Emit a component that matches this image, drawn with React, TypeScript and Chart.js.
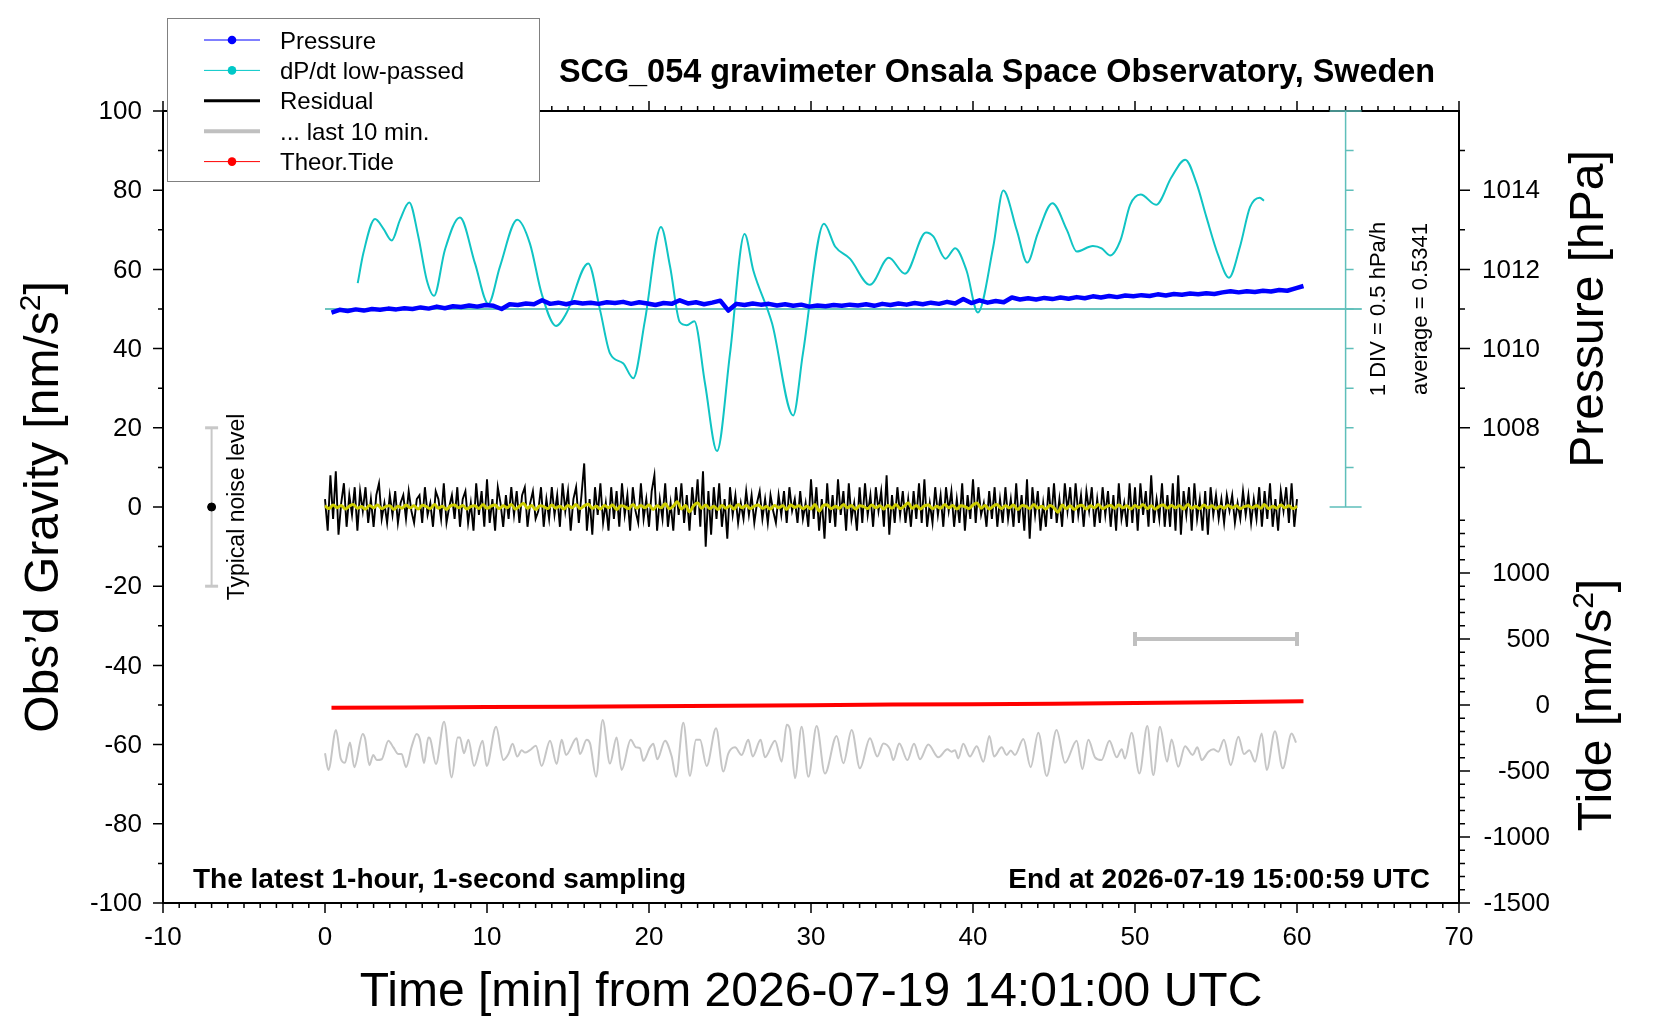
import { useEffect, useRef } from "react"
import { Chart, registerables } from "chart.js"

Chart.register(...registerables)

const FONT = '"Liberation Sans", Arial, Helvetica, sans-serif'

// axis labels
const timeTicks = [-10, 0, 10, 20, 30, 40, 50, 60, 70]
const gravityTicks = [-100, -80, -60, -40, -20, 0, 20, 40, 60, 80, 100]
const pressureTicks = [1008, 1010, 1012, 1014]
const tideTicks = [-1500, -1000, -500, 0, 500, 1000]

// air pressure [hPa], one value every 0.5 min starting at 0.4 min
const pressureStart = 0.4
const pressureStep = 0.5
const pressure = [
  1010.91, 1010.98, 1010.95, 1010.99, 1010.96, 1011.00, 1010.98, 1011.01, 1010.99, 1011.02,
  1011.00, 1011.04, 1011.01, 1011.06, 1011.02, 1011.07, 1011.05, 1011.09, 1011.06, 1011.10,
  1011.08, 1011.00, 1011.12, 1011.10, 1011.14, 1011.12, 1011.22, 1011.13, 1011.16, 1011.12,
  1011.17, 1011.14, 1011.16, 1011.13, 1011.17, 1011.15, 1011.18, 1011.13, 1011.17, 1011.14,
  1011.10, 1011.15, 1011.13, 1011.22, 1011.14, 1011.17, 1011.12, 1011.16, 1011.21, 1010.96,
  1011.13, 1011.10, 1011.14, 1011.11, 1011.13, 1011.09, 1011.12, 1011.08, 1011.11, 1011.06,
  1011.09, 1011.07, 1011.10, 1011.08, 1011.11, 1011.09, 1011.12, 1011.08, 1011.13, 1011.10,
  1011.14, 1011.11, 1011.15, 1011.12, 1011.16, 1011.13, 1011.18, 1011.14, 1011.25, 1011.15,
  1011.22, 1011.16, 1011.20, 1011.17, 1011.29, 1011.24, 1011.27, 1011.24, 1011.28, 1011.25,
  1011.29, 1011.26, 1011.30, 1011.27, 1011.32, 1011.29, 1011.33, 1011.30, 1011.34, 1011.32,
  1011.35, 1011.33, 1011.37, 1011.34, 1011.38, 1011.36, 1011.39, 1011.37, 1011.40, 1011.38,
  1011.42, 1011.45, 1011.42, 1011.45, 1011.43, 1011.46, 1011.44, 1011.48, 1011.46, 1011.52,
  1011.58,
]

// dP/dt low-passed [hPa/h]
const dpdtTime = [
  2.02, 2.37, 3.09, 3.6, 4.12, 4.63, 5.2, 5.76, 6.28, 6.73, 7.4, 8.33, 9.26, 10.08, 10.8,
  11.87, 12.65, 13.37, 14.26, 14.9, 16.25, 16.98, 17.6, 18.4, 19.03, 19.75, 20.74, 21.3,
  21.9, 22.33, 22.8, 23.46, 24.2, 25.0, 25.9, 26.44, 27.6, 28.9, 29.5, 30.8, 31.5, 32.4,
  33.64, 34.8, 35.8, 37.1, 37.55, 38.3, 38.9, 39.6, 40.3, 41.25, 41.87, 42.7, 43.35, 44.0,
  44.9, 45.8, 46.4, 47.4, 47.94, 48.46, 49.1, 49.7, 50.35, 51.3, 52.26, 53.1, 53.8, 54.4,
  55.14, 55.8, 56.48, 57.1, 57.7, 57.96,
]
const dpdtValue = [
  0.86, 1.24, 1.67, 1.55, 1.40, 1.66, 1.88, 1.45, 0.90, 0.70, 1.28, 1.69, 1.11, 0.60, 1.07,
  1.66, 1.36, 0.73, 0.32, 0.48, 1.11, 0.52, -0.03, -0.15, -0.34, 0.39, 1.57, 1.07,
  0.37, 0.33, 0.38, -0.41, -1.26, -0.03, 1.48, 1.02, 0.35, -0.81, -0.03, 1.61, 1.32, 1.17,
  0.84, 1.18, 0.98, 1.50, 1.45, 1.17, 1.30, 1.02, 0.49, 1.32, 2.03, 1.53, 1.12, 1.49,
  1.87, 1.53, 1.26, 1.33, 1.30, 1.21, 1.40, 1.85, 1.98, 1.85, 2.20, 2.42, 2.12, 1.70,
  1.21, 0.93, 1.32, 1.82, 1.94, 1.90,
]
const dpdtAverage = 0.5341
const dpdtDiv = 0.5
const dpdtAxisAt = 63
const dpdtLineEnd = 64

// residual gravity [nm/s^2], one value every 10 s
const residualStep = 1 / 6
const residual = [
  2, -6, 8, -3, 9, -7, 1, 6, -5, 3, -2, 5,
  -6, 4, -1, 5, -4, 2, -5, 3, 6, -3, 1, -4,
  3, -2, 4, -4, 1, 3, -3, 4, -1, -4, 2, 3,
  -4, 5, -2, 1, -5, 4, 2, -3, 6, -4, 0, 3,
  -3, 5, -5, 2, 4, -4, 1, -6, 6, -2, 4, -5,
  7, -4, 2, -6, 5, 1, -5, 3, -3, 5, -2, 4,
  -4, 3, 5, -5, 1, 4, -3, -1, 5, -5, 2, -3,
  5, -2, 3, -5, 6, -1, 4, -6, 2, 5, -4, 3,
  11, -6, 2, -7, 5, -2, 6, -4, 1, -6, 5, -3,
  4, -5, 6, -2, 3, -6, 5, -1, -4, 6, -3, 2,
  -5, 4, 8, -6, 2, -3, 6, -5, 1, -6, 5, -2,
  6, -4, 3, -6, 5, -2, 7, -5, 9, -10, 4, -7,
  5, -3, 6, -5, 2, -8, 5, -2, 3, -4, 1, -3,
  4, -2, 3, -4, 1, 4, -3, 2, -4, 3, -1, -4,
  3, -2, 4, -4, 5, -1, 2, -4, 4, -3, 1, -5,
  7, -3, 5, -6, 2, -8, 6, -4, 3, -5, 7, -2,
  4, -6, 6, -3, 1, -6, 5, -4, 6, -2, 3, -5,
  5, -1, 4, -5, 8, -7, 3, -4, 5, -2, 4, -4,
  2, -5, 4, -3, 6, -4, 7, -5, 1, -4, 5, -2,
  3, -5, 5, -1, 4, -5, 2, -4, 6, -6, 3, -3,
  7, -4, 5, -2, 1, -5, 4, -3, 5, -5, 2, -4,
  5, -3, 2, -5, 6, -4, 3, -6, 7, -8, 5, -2,
  4, -6, 1, -5, 5, -3, 6, -4, 2, -5, 6, -1,
  5, -4, 6, -2, 3, -5, 4, -1, 5, -5, 2, -4,
  5, -2, 4, -5, 3, -6, 6, -3, 1, -5, 6, -4,
  5, -6, 6, -2, 4, -5, 8, -4, 2, -3, 6, -5,
  3, -5, 6, -6, 8, -7, 4, -2, 5, -6, 6, -3,
  2, -6, 4, -7, 5, -2, 3, -3, 2, -4, 3, -1,
  3, -4, 1, -3, 4, -2, 3, -4, 2, -3, 5, -5,
  4, -3, 6, -5, 2, -6, 4, -1, 5, -4, 6, -5,
  2,
]

// low-passed residual, one value every 15 s
const smoothStep = 0.25
const residualSmooth = [
  0.3, -0.4, 0.5, -0.2, 0.4, -0.5, 0.2, 0.6, -0.3, 0.1, -0.5, 0.4, -0.2, 0.5, -0.4, 0.1, 0.3, -0.6, 0.2, -0.3,
  0.5, -0.2, 0.3, -0.5, 0.4, 0.1, -0.4, 0.6, -0.3, 0.2, -0.6, 0.3, 0.5, -0.2, 0.4, -0.5, 0.1, 0.3, -0.4, 0.6,
  -0.3, 0.2, 0.5, -0.4, 0.3, -0.2, 0.6, -0.5, 0.2, 0.9, -0.3, 0.4, -0.6, 0.3, 0.1, -0.4, 0.5, -0.3, 0.2, -0.5,
  0.4, -0.2, 0.6, -0.4, 0.3, 0.7, -0.3, 0.2, -0.5, 0.4, -0.2, 0.5, -0.6, 0.3, 0.1, -0.4, 0.6, -0.3, 0.4, -0.2,
  0.5, -0.6, 0.3, -0.2, 0.8, -0.4, 0.2, 1.3, -0.5, 0.4, -1.2, 0.3, 1.0, -0.3, 0.5, -0.4, 0.2, -0.6, 0.4, -0.3,
  0.3, -0.5, 0.6, -0.2, 0.4, -0.4, 0.2, 0.5, -0.3, 0.1, -0.5, 0.4, -0.2, 0.3, -0.6, 0.5, -0.1, 0.3, -0.4, 0.2,
  -0.5, 0.6, -1.0, 0.3, 0.5, -0.4, 0.2, -0.3, 0.6, -0.2, 0.4, -0.5, 0.3, 0.1, -0.4, 0.5, -0.2, 0.3, -0.5, 0.4,
  -0.3, 0.6, -0.4, 0.2, 1.0, -0.3, 0.4, -0.5, 0.3, 0.5, -0.4, 0.2, -0.3, 0.6, -0.2, 0.4, -0.5, 0.3, 0.1, -0.4,
  0.5, 1.0, -0.3, 0.4, -0.5, 0.2, 0.6, -0.4, 0.3, -0.2, 0.5, -0.6, 0.3, 0.2, -0.4, 0.6, -0.3, 0.2, -0.5, 0.4,
  -0.2, -1.3, 0.5, -0.4, 0.3, -0.6, 0.2, 0.4, -0.5, 0.3, -0.2, 0.6, -0.4, 0.1, 0.4, -0.3, 0.5, -0.2, 0.3, -0.5,
  0.4, -0.2, 0.6, -0.4, 0.3, -0.5, 0.2, 0.5, -0.3, 0.4, -0.2, 0.3, -0.5, 0.6, -0.3, 0.2, -0.4, 0.5, -0.2, 0.3,
  -0.4, 0.2, -0.3, 0.4, -0.2, 0.3, -0.4, 0.1, 0.3, -0.2, 0.4, -0.3, 0.6, -0.4, 0.2, -0.3, 0.5, -0.2, 0.3, -0.4,
  0.2,
]

// last 10 min of residual, stretched over the hour (plotted around -62)
const last10Time = [
  0.0, 0.21, 0.68, 0.97, 1.23, 1.54, 1.81, 2.33, 2.47, 2.74, 2.98, 3.19, 3.5, 3.91, 4.22, 4.53,
  4.73, 5.0, 5.35, 5.66, 5.86, 6.11, 6.38, 6.48, 6.85, 7.35, 7.82, 8.19, 8.33, 8.58, 8.85, 9.2,
  9.73, 9.98, 10.56, 11.01, 11.32, 11.58, 11.87, 12.14, 12.35, 12.65, 13.02, 13.37, 13.89, 14.3,
  14.61, 14.88, 15.53, 15.74, 16.15, 16.36, 16.73, 17.14, 17.59, 18.0, 18.31, 18.87, 19.2, 19.44,
  19.65, 20.06, 20.27, 20.51, 20.99, 21.4, 21.67, 22.12, 22.53, 22.9, 23.15, 23.56, 24.14, 24.59,
  24.9, 25.31, 25.72, 26.13, 26.4, 26.89, 27.16, 27.78, 28.19, 28.5, 28.7, 29.01, 29.42, 29.84,
  30.35, 30.86, 31.58, 32.0, 32.51, 33.02, 33.64, 34.09, 34.47, 34.88, 35.08, 35.45, 35.95, 36.36,
  36.73, 37.24, 37.86, 38.42, 38.68, 38.89, 39.09, 39.4, 39.81, 40.23, 40.64, 41.01, 41.3, 41.77,
  42.08, 42.33, 42.59, 43.11, 43.56, 44.03, 44.55, 45.16, 45.68, 46.4, 46.75, 47.12, 47.53, 47.94,
  48.42, 48.87, 49.18, 49.38, 49.79, 50.27, 50.76, 51.13, 51.54, 51.98, 52.26, 52.67, 53.09, 53.56,
  53.85, 54.12, 54.53, 54.84, 55.14, 55.49, 55.91, 56.38, 56.73, 57.06, 57.41, 57.82, 58.13, 58.64,
  59.12, 59.67, 59.94,
]
const last10Value = [
  -62.2, -66.4, -56.3, -63.5, -64.6, -59.5, -65.7, -57.3, -58.4, -65.2, -62.6, -63.9, -63.7, -59.0, -60.7, -62.4,
  -62.4, -65.7, -60.5, -57.3, -58.7, -64.7, -58.2, -58.4, -64.9, -54.2, -68.3, -58.2, -58.2, -62.2, -58.8, -65.4,
  -59.0, -65.4, -55.5, -63.9, -62.4, -59.8, -63.0, -61.4, -62.0, -61.4, -60.3, -65.4, -59.0, -64.9,
  -58.8, -62.6, -58.4, -62.4, -58.8, -59.7, -68.1, -53.8, -64.8, -58.2, -66.4, -58.8, -60.7, -60.9,
  -64.1, -60.7, -59.8, -63.7, -59.0, -63.0, -68.1, -54.5, -67.9, -58.8, -58.8, -65.4, -55.9, -66.8,
  -62.2, -60.7, -62.6, -58.8, -63.0, -58.8, -63.2, -59.0, -64.3, -55.0, -56.1, -68.5, -55.5, -68.1,
  -55.3, -67.3, -57.8, -64.7, -56.3, -66.0, -58.4, -63.0, -59.7, -61.2, -63.9, -59.7, -63.9, -59.8,
  -63.7, -60.0, -63.2, -61.2, -61.8, -61.4, -63.5, -59.8, -63.0, -60.4, -64.3, -57.8, -63.0, -60.7,
  -62.6, -61.5, -62.6, -58.6, -65.7, -57.0, -67.9, -56.3, -64.6, -59.0, -66.2, -58.8, -63.2, -63.9,
  -59.0, -63.2, -61.2, -63.5, -57.0, -67.3, -55.3, -67.7, -55.5, -64.3, -58.7, -65.6, -60.4, -62.6,
  -60.7, -63.9, -61.8, -61.2, -61.8, -58.8, -65.2, -58.0, -62.4, -61.4, -64.3, -57.2, -66.4, -56.6,
  -66.0, -57.2, -59.5,
]

// theoretical tide [nm/s^2]
const tideTime = [0.4, 5, 10, 15, 20, 25, 30, 35, 40, 45, 50, 55, 60.4]
const tideValue = [-20, -18, -16, -14, -10, -6, -1, 3, 6, 10, 15, 21, 28]

// typical noise level bar and the "last 10 min" bar
const noiseAt = -7
const noiseLevel = 20
const last10Span = [50, 60]
const last10Mark = 500

const legendRows = [
  { label: "Pressure", color: "#0000ff", width: 1, dot: true },
  { label: "dP/dt low-passed", color: "#00c8c8", width: 1, dot: true },
  { label: "Residual", color: "#000000", width: 3, dot: false },
  { label: "... last 10 min.", color: "#c0c0c0", width: 4, dot: false },
  { label: "Theor.Tide", color: "#ff0000", width: 1, dot: true },
]

const series = (vals: number[], start: number, step: number) =>
  vals.map((v, i) => ({ x: start + i * step, y: v }))
const pairs = (xs: number[], ys: number[]) => xs.map((x, i) => ({ x, y: ys[i] }))

type Part = [string, number, number]

// text rotated 90deg counter-clockwise, centred on cy, baseline at bx
function rotatedText(ctx: CanvasRenderingContext2D, parts: Part[], bx: number, cy: number) {
  ctx.save()
  ctx.translate(bx, cy)
  ctx.rotate(-Math.PI / 2)
  ctx.textAlign = "left"
  ctx.textBaseline = "alphabetic"
  let total = 0
  for (const [t, size] of parts) {
    ctx.font = `${size}px ${FONT}`
    total += ctx.measureText(t).width
  }
  let pos = -total / 2
  for (const [t, size, rise] of parts) {
    ctx.font = `${size}px ${FONT}`
    ctx.fillText(t, pos, -rise)
    pos += ctx.measureText(t).width
  }
  ctx.restore()
}

const decorations = {
  id: "decorations",
  afterDraw(chart: any) {
    const ctx: CanvasRenderingContext2D = chart.ctx
    const { left, right, top, bottom } = chart.chartArea
    const sx = chart.scales.x
    const sy = chart.scales.y
    const sp = chart.scales.pres
    const st = chart.scales.tide
    const sd = chart.scales.dpdt
    ctx.save()
    ctx.fillStyle = "#000"
    ctx.strokeStyle = "#000"

    // frame
    ctx.lineWidth = 2
    ctx.strokeRect(left, top, right - left, bottom - top)

    // ticks
    ctx.lineWidth = 1.5
    ctx.beginPath()
    for (let m = -10; m <= 70; m++) {
      const px = sx.getPixelForValue(m)
      const len = timeTicks.includes(m) ? 10 : 5
      ctx.moveTo(px, bottom)
      ctx.lineTo(px, bottom + len)
      ctx.moveTo(px, top)
      ctx.lineTo(px, top - len)
    }
    for (let g = -100; g <= 100; g += 10) {
      const py = sy.getPixelForValue(g)
      ctx.moveTo(left, py)
      ctx.lineTo(left - (gravityTicks.includes(g) ? 10 : 5), py)
    }
    for (let p = 1007; p <= 1015; p++) {
      const py = sp.getPixelForValue(p)
      ctx.moveTo(right, py)
      ctx.lineTo(right + (pressureTicks.includes(p) ? 11 : 6), py)
    }
    for (let t = -1500; t <= 1400; t += 100) {
      const py = st.getPixelForValue(t)
      ctx.moveTo(right, py)
      ctx.lineTo(right + (tideTicks.includes(t) ? 11 : 6), py)
    }
    ctx.stroke()

    // tick labels
    ctx.font = `26px ${FONT}`
    ctx.textAlign = "center"
    ctx.textBaseline = "alphabetic"
    timeTicks.forEach((m) => ctx.fillText(String(m), sx.getPixelForValue(m), bottom + 42))
    ctx.textBaseline = "middle"
    ctx.textAlign = "right"
    gravityTicks.forEach((g) => ctx.fillText(String(g), left - 21, sy.getPixelForValue(g) + 1))
    ctx.textAlign = "left"
    pressureTicks.forEach((p) => ctx.fillText(String(p), right + 23, sp.getPixelForValue(p) + 1))
    ctx.textAlign = "right"
    tideTicks.forEach((t) => ctx.fillText(String(t), right + 91, st.getPixelForValue(t) + 1))

    // axis titles
    ctx.textAlign = "center"
    ctx.textBaseline = "alphabetic"
    ctx.font = `48px ${FONT}`
    ctx.fillText("Time [min] from 2026-07-19 14:01:00 UTC", (left + right) / 2, bottom + 103)
    rotatedText(ctx, [["Obs\u2019d Gravity [nm/s", 48, 0], ["2", 30, 18], ["]", 48, 0]], 58, sy.getPixelForValue(0))
    rotatedText(ctx, [["Pressure [hPa]", 48, 0]], right + 144, sp.getPixelForValue(1011))
    rotatedText(ctx, [["Tide [nm/s", 48, 0], ["2", 30, 18], ["]", 48, 0]], right + 152, st.getPixelForValue(0))

    // title and notes
    ctx.font = `bold 32.4px ${FONT}`
    ctx.fillText("SCG_054 gravimeter Onsala Space Observatory, Sweden", 997, 82)
    ctx.font = `bold 28px ${FONT}`
    ctx.textAlign = "left"
    ctx.fillText("The latest 1-hour, 1-second sampling", left + 30, bottom - 15)
    ctx.textAlign = "right"
    ctx.fillText("End at 2026-07-19 15:00:59 UTC", right - 29, bottom - 15)
    rotatedText(ctx, [["Typical noise level", 23, 0]], sx.getPixelForValue(noiseAt) + 32, sy.getPixelForValue(0))

    // dP/dt scale
    const ax = sx.getPixelForValue(dpdtAxisAt)
    const yTop = sd.getPixelForValue(dpdtAverage + 5 * dpdtDiv)
    const yBot = sd.getPixelForValue(dpdtAverage - 5 * dpdtDiv)
    ctx.strokeStyle = "#5fbfba"
    ctx.lineWidth = 1.5
    ctx.beginPath()
    ctx.moveTo(ax, yTop)
    ctx.lineTo(ax, yBot)
    for (let k = -5; k <= 5; k++) {
      const py = sd.getPixelForValue(dpdtAverage + k * dpdtDiv)
      if (Math.abs(k) === 5) {
        ctx.moveTo(ax - 16, py)
        ctx.lineTo(ax + 16, py)
      } else {
        ctx.moveTo(ax, py)
        ctx.lineTo(ax + 8, py)
      }
    }
    ctx.stroke()
    ctx.fillStyle = "#000"
    const yAvg = sd.getPixelForValue(dpdtAverage)
    rotatedText(ctx, [[`1 DIV = ${dpdtDiv} hPa/h`, 22, 0]], ax + 39, yAvg)
    rotatedText(ctx, [[`average = ${dpdtAverage}`, 22, 0]], ax + 81, yAvg)

    // legend
    const lx = 167
    const ly = 18
    ctx.fillStyle = "#fff"
    ctx.fillRect(lx, ly, 372, 163)
    ctx.strokeStyle = "#808080"
    ctx.lineWidth = 1
    ctx.strokeRect(lx + 0.5, ly + 0.5, 372, 163)
    ctx.font = `24px ${FONT}`
    ctx.textAlign = "left"
    ctx.textBaseline = "alphabetic"
    legendRows.forEach((row, i) => {
      const ry = ly + 22 + i * 30.4
      ctx.strokeStyle = row.color
      ctx.lineWidth = row.width
      ctx.beginPath()
      ctx.moveTo(lx + 37, ry)
      ctx.lineTo(lx + 93, ry)
      ctx.stroke()
      if (row.dot) {
        ctx.fillStyle = row.color
        ctx.beginPath()
        ctx.arc(lx + 65, ry, 4.3, 0, Math.PI * 2)
        ctx.fill()
      }
      ctx.fillStyle = "#000"
      ctx.fillText(row.label, lx + 113, ry + 8.5)
    })
    ctx.restore()
  },
}

export default function App() {
  const canvasRef = useRef<HTMLCanvasElement>(null)

  useEffect(() => {
    if (!canvasRef.current) return
    const chart = new Chart(canvasRef.current, {
      type: "line",
      data: {
        datasets: [
          {
            label: "average",
            data: [
              { x: 0, y: dpdtAverage },
              { x: dpdtLineEnd, y: dpdtAverage },
            ],
            yAxisID: "dpdt",
            borderColor: "#6cc4bf",
            borderWidth: 2,
            order: 10,
          },
          {
            label: "dP/dt low-passed",
            data: pairs(dpdtTime, dpdtValue),
            yAxisID: "dpdt",
            borderColor: "#10c4c4",
            borderWidth: 2,
            cubicInterpolationMode: "monotone",
            order: 9,
          },
          {
            label: "Pressure",
            data: series(pressure, pressureStart, pressureStep),
            yAxisID: "pres",
            borderColor: "#0000ff",
            borderWidth: 4.5,
            borderJoinStyle: "round",
            order: 8,
          },
          {
            label: "Residual",
            data: series(residual, 0, residualStep),
            yAxisID: "y",
            borderColor: "#000000",
            borderWidth: 1.9,
            order: 7,
          },
          {
            label: "Residual low-passed",
            data: series(residualSmooth, 0, smoothStep),
            yAxisID: "y",
            borderColor: "#cccc00",
            borderWidth: 3,
            tension: 0.4,
            order: 6,
          },
          {
            label: "... last 10 min.",
            data: pairs(last10Time, last10Value),
            yAxisID: "y",
            borderColor: "#c6c6c6",
            borderWidth: 2,
            cubicInterpolationMode: "monotone",
            order: 5,
          },
          {
            label: "Theor.Tide",
            data: pairs(tideTime, tideValue),
            yAxisID: "tide",
            borderColor: "#ff0000",
            borderWidth: 4,
            order: 4,
          },
          {
            label: "noise bar",
            data: [
              { x: noiseAt, y: -noiseLevel },
              { x: noiseAt, y: noiseLevel },
            ],
            yAxisID: "y",
            borderColor: "#c8c8c8",
            borderWidth: 2,
            pointStyle: "line",
            pointRadius: 6.5,
            pointBorderWidth: 3,
            pointBorderColor: "#c8c8c8",
            order: 3,
          },
          {
            label: "noise centre",
            data: [{ x: noiseAt, y: 0 }],
            yAxisID: "y",
            showLine: false,
            pointRadius: 4,
            pointBackgroundColor: "#000",
            pointBorderColor: "#000",
            order: 2,
          },
          {
            label: "last 10 min span",
            data: [
              { x: last10Span[0], y: last10Mark },
              { x: last10Span[1], y: last10Mark },
            ],
            yAxisID: "tide",
            borderColor: "#c0c0c0",
            borderWidth: 4,
            pointStyle: "line",
            pointRotation: 90,
            pointRadius: 7,
            pointBorderWidth: 4,
            pointBorderColor: "#c0c0c0",
            order: 1,
          },
        ],
      },
      options: {
        animation: false,
        responsive: false,
        events: [],
        layout: { padding: { left: 163, right: 201, top: 111, bottom: 117 } },
        elements: { point: { radius: 0 }, line: { tension: 0 } },
        plugins: { legend: { display: false }, tooltip: { enabled: false }, title: { display: false } },
        scales: {
          x: { type: "linear", min: -10, max: 70, display: false },
          y: { type: "linear", min: -100, max: 100, display: false },
          pres: { type: "linear", min: 996, max: 1016, display: false },
          tide: { type: "linear", min: -1500, max: 4500, display: false },
          dpdt: {
            type: "linear",
            min: dpdtAverage - 15 * dpdtDiv,
            max: dpdtAverage + 5 * dpdtDiv,
            display: false,
          },
        },
      },
      plugins: [decorations],
    })
    return () => chart.destroy()
  }, [])

  return (
    <div style={{ position: "fixed", left: 0, top: 0, width: 1660, height: 1020, background: "#fff" }}>
      <canvas ref={canvasRef} width={1660} height={1020} style={{ display: "block", width: 1660, height: 1020 }} />
    </div>
  )
}
